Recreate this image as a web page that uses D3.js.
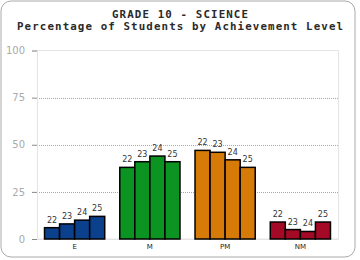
<!DOCTYPE html>
<html>
<head>
<meta charset="utf-8">
<script src="https://cdn.jsdelivr.net/npm/d3@7"></script>
<style>
  body { margin: 0; background: #fff; }
  svg { display: block; }
</style>
</head>
<body>
<div class="canvas"></div>
<script>
const categories = ['E', 'M', 'PM', 'NM'];
const years = ['22', '23', '24', '25'];
// percent of students per level, one array per year
const values22 = [6, 38, 47, 9];
const values23 = [8, 41, 46, 5];
const values24 = [10, 44, 42, 4];
const values25 = [12, 41, 38, 9];
const yTicks = [0, 25, 50, 75, 100];
const colors = ['#0b408c', '#0b9422', '#d77b08', '#a40a25'];

const series = [values22, values23, values24, values25];

const dims = {width: 360, height: 260};
const plot = {left: 37, right: 338, top: 50.5, bottom: 239};

const svg = d3.select('.canvas')
    .append('svg')
    .attr('width', dims.width)
    .attr('height', dims.height);

// outer frame
svg.append('rect')
    .attr('x', 1).attr('y', 1)
    .attr('width', 354).attr('height', 256)
    .attr('rx', 10)
    .attr('fill', '#fff')
    .attr('stroke', '#aaa')
    .attr('stroke-width', 1);

// titles
const titles = [
    {text: 'GRADE 10 - SCIENCE', y: 17.5, len: 136},
    {text: 'Percentage of Students by Achievement Level', y: 29.5, len: 326}
];
svg.selectAll('.title')
    .data(titles)
    .enter().append('text')
    .attr('class', 'title')
    .attr('x', 180)
    .attr('y', d => d.y)
    .attr('text-anchor', 'middle')
    .attr('textLength', d => d.len)
    .attr('lengthAdjust', 'spacing')
    .attr('font-family', 'DejaVu Sans Mono')
    .attr('font-weight', 'bold')
    .attr('font-size', 10.8)
    .attr('fill', '#2a2a2a')
    .text(d => d.text);

const x = d3.scaleBand()
    .domain(categories)
    .range([plot.left, plot.right])
    .paddingInner(0.2)
    .paddingOuter(0.1);

const xSub = d3.scaleBand()
    .domain(years)
    .range([0, x.bandwidth()]);

const y = d3.scaleLinear()
    .domain([0, 100])
    .range([plot.bottom, plot.top]);

// plot border
svg.append('rect')
    .attr('x', plot.left + 0.5)
    .attr('y', y(100))
    .attr('width', plot.right - plot.left)
    .attr('height', plot.bottom - y(100))
    .attr('fill', 'none')
    .attr('stroke', '#e4e4e4');

// dotted grid lines
svg.selectAll('.grid')
    .data(yTicks.filter(t => t > 0 && t < 100))
    .enter().append('line')
    .attr('x1', plot.left).attr('x2', plot.right)
    .attr('y1', d => Math.round(y(d)) + 0.5)
    .attr('y2', d => Math.round(y(d)) + 0.5)
    .attr('stroke', '#aaa')
    .attr('stroke-dasharray', '1,1');

// y axis
const yAxis = svg.append('g')
    .attr('transform', `translate(${plot.left}, 0)`)
    .call(d3.axisLeft(y).tickValues(yTicks).tickSize(5).tickPadding(7));
yAxis.select('.domain').attr('stroke', '#e4e4e4');
yAxis.selectAll('.tick line').attr('stroke', '#888');
yAxis.selectAll('text')
    .attr('fill', '#aaa')
    .attr('font-family', 'DejaVu Sans')
    .attr('font-size', 10);

// x axis
const xAxis = svg.append('g')
    .attr('transform', `translate(0, ${plot.bottom})`)
    .call(d3.axisBottom(x).tickSize(0).tickPadding(5));
xAxis.select('.domain').attr('stroke', '#e4e4e4');
xAxis.selectAll('text')
    .attr('fill', '#222')
    .attr('font-family', 'DejaVu Sans')
    .attr('font-size', 7);

// bars
const groups = svg.selectAll('.group')
    .data(categories)
    .enter().append('g')
    .attr('class', 'group')
    .attr('transform', d => `translate(${x(d)}, 0)`);

groups.each(function(cat, ci) {
    const g = d3.select(this);
    const rows = years.map((yr, yi) => ({year: yr, value: series[yi][ci]}));

    g.selectAll('rect')
        .data(rows)
        .enter().append('rect')
        .attr('x', d => xSub(d.year))
        .attr('y', d => y(d.value))
        .attr('width', xSub.bandwidth())
        .attr('height', d => y(0) - y(d.value))
        .attr('fill', colors[ci])
        .attr('stroke', '#000')
        .attr('stroke-width', 1.5);

    g.selectAll('text')
        .data(rows)
        .enter().append('text')
        .attr('x', d => xSub(d.year) + xSub.bandwidth() / 2)
        .attr('y', d => y(d.value) - 5)
        .attr('text-anchor', 'middle')
        .attr('font-family', 'DejaVu Sans')
        .attr('font-size', 8)
        .attr('fill', '#333')
        .text(d => d.year);
});
</script>
</body>
</html>
